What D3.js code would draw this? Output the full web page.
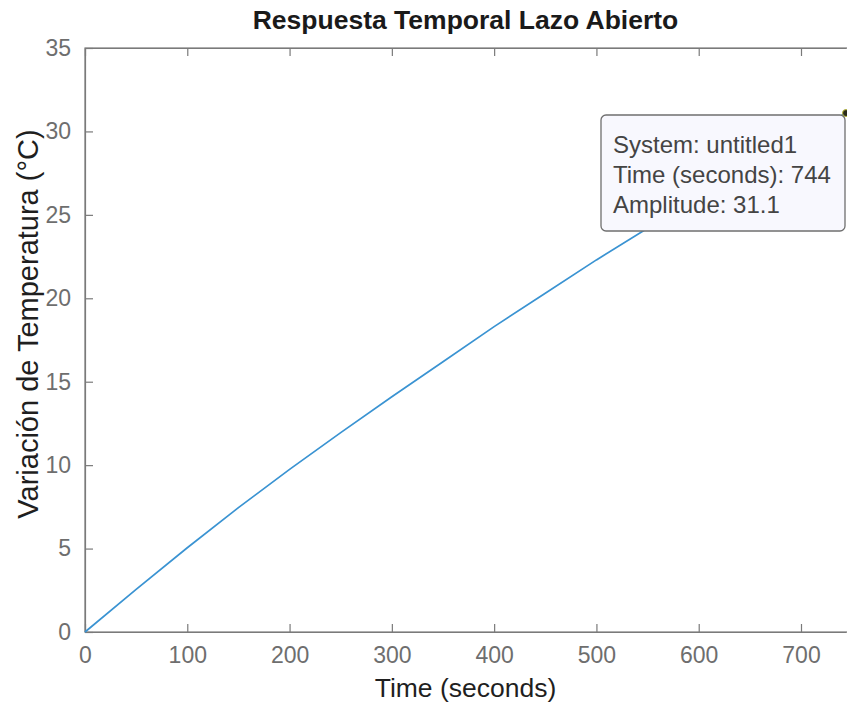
<!DOCTYPE html>
<html>
<head>
<meta charset="utf-8">
<script src="https://cdn.jsdelivr.net/npm/d3@7"></script>
<style>
  html, body { margin: 0; padding: 0; background: #fff; }
  svg { display: block; font-family: "Liberation Sans", Arial, Helvetica, sans-serif; }
</style>
</head>
<body>
<svg id="chart" width="847" height="710"></svg>
<script>
// Open-loop step response of the thermal system
const timeSeconds = [0, 50, 100, 150, 200, 250, 300, 350, 400, 450, 500, 550, 600, 650, 700, 744];
const temperatureDelta = [0, 2.55, 5.05, 7.45, 9.75, 11.95, 14.1, 16.2, 18.3, 20.3, 22.3, 24.2, 26.05, 27.85, 29.6, 31.1];

const xTicks = [0, 100, 200, 300, 400, 500, 600, 700];
const yTicks = [0, 5, 10, 15, 20, 25, 30, 35];

const titleText = "Respuesta Temporal Lazo Abierto";
const xLabelText = "Time (seconds)";
const yLabelText = "Variación de Temperatura (°C)";

// Data tip
const tipTime = 744;
const tipValue = 31.1;
const tipLines = ["System: untitled1", "Time (seconds): " + tipTime, "Amplitude: " + tipValue];

const svg = d3.select("#chart");
const margin = { left: 85, top: 48, right: 846, bottom: 632 };

const x = d3.scaleLinear().domain([0, 744]).range([margin.left, margin.right]);
const y = d3.scaleLinear().domain([0, 35]).range([margin.bottom, margin.top]);

const axisColor = "#7a7a7a";
const tickTextColor = "#6e6e6e";
const tickLen = 8;

// Plot box (right side sits at the canvas edge)
svg.append("rect")
  .attr("x", margin.left).attr("y", margin.top)
  .attr("width", margin.right - margin.left + 10).attr("height", margin.bottom - margin.top)
  .attr("fill", "#fff").attr("stroke", axisColor).attr("stroke-width", 1.2);

// Bottom axis
const gx = svg.append("g").attr("transform", `translate(0,${margin.bottom})`)
  .call(d3.axisBottom(x).tickValues(xTicks).tickSizeInner(-tickLen).tickSizeOuter(0).tickPadding(15));
// Top axis ticks
const gxTop = svg.append("g").attr("transform", `translate(0,${margin.top})`)
  .call(d3.axisTop(x).tickValues(xTicks).tickSizeInner(-tickLen).tickSizeOuter(0).tickFormat(""));
// Left axis
const gy = svg.append("g").attr("transform", `translate(${margin.left},0)`)
  .call(d3.axisLeft(y).tickValues(yTicks).tickSizeInner(-tickLen).tickSizeOuter(0).tickPadding(14));

[gx, gxTop, gy].forEach(g => {
  g.select(".domain").attr("stroke", axisColor).attr("stroke-width", 1.2);
  g.selectAll(".tick line").attr("stroke", axisColor).attr("stroke-width", 1.2);
  g.selectAll(".tick text")
    .attr("fill", tickTextColor)
    .style("font-size", "23px")
    .style("font-family", "'Liberation Sans', Arial, sans-serif");
});
gx.selectAll(".tick text").attr("dy", "0.71em");

// Response curve
const line = d3.line()
  .x((d, i) => x(timeSeconds[i]))
  .y(d => y(d));

svg.append("path")
  .datum(temperatureDelta)
  .attr("d", line)
  .attr("fill", "none")
  .attr("stroke", "#3a93d2")
  .attr("stroke-width", 1.7);

// Data tip marker
svg.append("circle")
  .attr("cx", x(tipTime)).attr("cy", y(tipValue))
  .attr("r", 3.5)
  .attr("fill", "#2a2a1a")
  .attr("stroke", "#b8b83a").attr("stroke-width", 1);

// Data tip box
const tipBox = { x0: 601, y0: 115, x1: 845, y1: 231 };
svg.append("rect")
  .attr("x", tipBox.x0).attr("y", tipBox.y0)
  .attr("width", tipBox.x1 - tipBox.x0).attr("height", tipBox.y1 - tipBox.y0)
  .attr("rx", 5).attr("ry", 5)
  .attr("fill", "#f8f8fe")
  .attr("stroke", "#6f6f6f").attr("stroke-width", 1.3);

svg.append("g")
  .selectAll("text")
  .data(tipLines)
  .join("text")
  .attr("x", tipBox.x0 + 12)
  .attr("y", (d, i) => 153 + i * 30)
  .attr("fill", "#444")
  .style("font-size", "24px")
  .text(d => d);

// Title and axis labels
svg.append("text")
  .attr("x", (margin.left + margin.right) / 2).attr("y", 29)
  .attr("text-anchor", "middle")
  .attr("fill", "#1a1a1a")
  .style("font-size", "26.5px").style("font-weight", "bold")
  .text(titleText);

svg.append("text")
  .attr("x", (margin.left + margin.right) / 2).attr("y", 697)
  .attr("text-anchor", "middle")
  .attr("fill", "#1f1f1f")
  .style("font-size", "26.5px")
  .text(xLabelText);

svg.append("text")
  .attr("transform", `translate(38,324) rotate(-90)`)
  .attr("text-anchor", "middle")
  .attr("fill", "#1f1f1f")
  .style("font-size", "29px")
  .text(yLabelText);
</script>
</body>
</html>
